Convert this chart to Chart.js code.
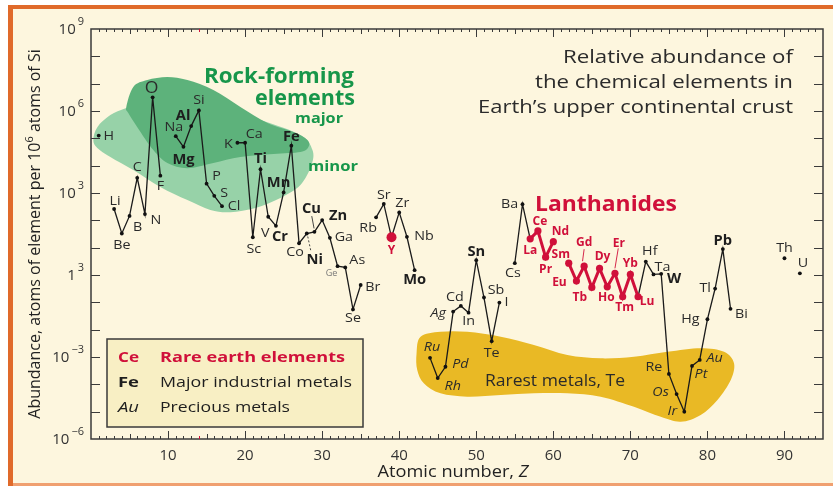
<!DOCTYPE html>
<html><head><meta charset="utf-8">
<script src="https://cdn.jsdelivr.net/npm/chart.js@4/dist/chart.umd.min.js"></script>
<style>html,body{margin:0;padding:0;background:#fff;}canvas{display:block;}</style>
</head><body>
<canvas id="c" width="833" height="486"></canvas>
<script>
// ---------- DATA ----------
const atomicNumbers = [1,3,4,5,6,7,8,9,11,12,13,14,15,16,17,19,20,21,22,23,24,25,26,27,28,29,30,31,32,33,34,35,37,38,39,40,41,42,44,45,46,47,48,49,50,51,52,53,55,56,57,58,59,60,62,63,64,65,66,67,68,69,70,71,72,73,74,75,76,77,78,79,80,81,82,83,90,92];
const symbols = ['H','Li','Be','B','C','N','O','F','Na','Mg','Al','Si','P','S','Cl','K','Ca','Sc','Ti','V','Cr','Mn','Fe','Co','Ni','Cu','Zn','Ga','Ge','As','Se','Br','Rb','Sr','Y','Zr','Nb','Mo','Ru','Rh','Pd','Ag','Cd','In','Sn','Sb','Te','I','Cs','Ba','La','Ce','Pr','Nd','Sm','Eu','Gd','Tb','Dy','Ho','Er','Tm','Yb','Lu','Hf','Ta','W','Re','Os','Ir','Pt','Au','Hg','Tl','Pb','Bi','Th','U'];
// atoms of element per 10^6 atoms of Si
const abundance = [1.26e5,2.6e2,33,145,3.6e3,170,3.16e6,4.3e3,1.2e5,4.9e4,2.8e5,1.05e6,2.2e3,790,330,6.9e4,6.9e4,24,7.4e3,135,63,1.05e3,5.4e4,14.5,33,38,102,23,2.1,1.9,0.055,0.43,129,398,24,195,25,1.5,9.3e-4,1.7e-4,4.4e-4,0.046,0.074,0.042,3.5,0.15,3.8e-3,0.098,2.7,389,21,41,4.5,16.6,2.7,0.60,2.1,0.35,1.74,0.37,1.15,0.16,1.05,0.16,3.1,1.05,1.1,2.4e-4,4.4e-5,1.0e-5,4.7e-4,7.8e-4,0.024,0.32,8.9,0.058,4.1,1.15];
const rareEarths = ['Y','La','Ce','Pr','Nd','Sm','Eu','Gd','Tb','Dy','Ho','Er','Tm','Yb','Lu'];
const industrialMetals = ['Mg','Al','Ti','Cr','Mn','Fe','Ni','Cu','Zn','Mo','Sn','W','Pb'];
const preciousMetals = ['Ru','Rh','Pd','Ag','Os','Ir','Pt','Au'];
const xTickValues = [10,20,30,40,50,60,70,80,90];
const yTickValues = [1e-6,1e-3,1,1e3,1e6,1e9];
const yTickLabels = [['10','\u22126'],['10','\u22123'],['1','3'],['10','3'],['10','6'],['10','9']];
const titleLines = ['Relative abundance of','the chemical elements in','Earth\u2019s upper continental crust'];
const legendRows = [['Ce','Rare earth elements'],['Fe','Major industrial metals'],['Au','Precious metals']];

// ---------- LAYOUT (label offsets in px, region outlines in [Z, log10 abundance]) ----------
const labelOffset = {
 H:[10,1],Li:[1,-8],Be:[0,12],B:[8,11],C:[0,-10],N:[11,6],O:[-1,-9],F:[0,11],
 Na:[-2,-9],Mg:[0,13],Al:[-8,-10],Si:[0,-10],P:[10,-7],S:[10,-3],Cl:[12,0],
 K:[-9,2],Ca:[9,-8],Sc:[1,12],Ti:[0,-10],V:[-3,17],Cr:[4,11],Mn:[-5,-9],Fe:[0,-9],
 Co:[-4,9],Ni:[8,27],Cu:[-3,-23],Zn:[16,-4],Ga:[14,0],Ge:[-6,7],As:[12,-7],Se:[0,9],Br:[12,2],
 Rb:[-8,11],Sr:[0,-9],Y:[0,13],Zr:[3,-9],Nb:[17,0],Mo:[0,10],
 Ru:[2,-11],Rh:[15,8],Pd:[15,-2],Ag:[-15,2],Cd:[-6,-9],In:[0,9],Sn:[0,-8],Sb:[12,-7],Te:[0,12],I:[7,0],
 Cs:[-2,10],Ba:[-13,0],La:[0,12],Ce:[2,-9],Pr:[0,12],Nd:[7,-10],Sm:[-8,-9],Eu:[-17,2],Gd:[0,-24],
 Tb:[-12,10],Dy:[3,-12],Ho:[-1,11],Er:[4,-30],Tm:[2,11],Yb:[0,-11],Lu:[9,5],
 Hf:[4,-10],Ta:[9,-7],W:[13,5],Re:[-15,-7],Os:[-16,-2],Ir:[-12,0],Pt:[9,8],Au:[15,-2],
 Hg:[-17,0],Tl:[-10,0],Pb:[0,-8],Bi:[11,5],Th:[0,-10],U:[3,-10]
};
const leaders = {Cu:[-2.7,-15.7,-0.4,-3.4,false],Ni:[1,3,4,17,true],Gd:[0,-17,-1.6,-5,false],Er:[3.3,-25,0,-5,false]};
const minorRegion = [[0.30,4.94],[0.82,5.41],[2.51,5.85],[4.58,6.11],[7.7,6.40],[14.19,6.40],[21.99,5.67],[27.18,5.12],[28.74,4.57],[28.61,4.02],[27.18,3.29],[24.58,2.82],[21.34,2.45],[18.09,2.30],[15.49,2.38],[12.51,2.74],[9.0,3.22],[5.49,3.84],[2.51,4.32],[0.82,4.65]];
const majorRegion = [[4.58,6.15],[5.49,6.88],[7.31,7.13],[9.91,7.24],[12.51,7.13],[15.88,6.77],[19.39,6.15],[22.9,5.56],[26.27,5.23],[28.09,4.94],[28.22,4.68],[27.18,4.50],[23.68,4.43],[19.39,4.32],[15.88,4.10],[12.51,3.91],[9.91,4.10],[8.09,4.57],[6.01,5.41],[4.84,5.93]];
const rarestRegion = [[42.25,-2.87],[42.77,-2.26],[45.36,-2.08],[48.83,-2.08],[53.18,-2.26],[57.48,-2.56],[61.82,-2.93],[66.14,-3.05],[70.47,-2.99],[74.81,-2.81],[79.13,-2.68],[82.16,-2.81],[83.45,-3.23],[83.03,-3.84],[81.30,-4.57],[79.13,-5.12],[76.53,-5.37],[73.94,-5.19],[70.47,-4.82],[66.14,-4.45],[61.82,-4.33],[57.48,-4.33],[53.18,-4.39],[48.83,-4.45],[45.36,-4.33],[43.19,-3.96],[42.34,-3.48]];

// ---------- BUILD ----------
const RED = '#d0103a', INK = '#222';
const FONT = "'Open Sans', 'Noto Sans', sans-serif";
const allPts = [], reePts = [];
for (let z = 1; z <= 92; z++) {
  const i = atomicNumbers.indexOf(z);
  const v = i >= 0 ? abundance[i] : null;
  allPts.push({x: z, y: v});
  reePts.push({x: z, y: (i >= 0 && rareEarths.includes(symbols[i])) ? v : null});
}
function symOf(z){ const i = atomicNumbers.indexOf(z); return i>=0 ? symbols[i] : null; }

function smoothClosed(ctx, p){
  const n = p.length;
  ctx.beginPath(); ctx.moveTo(p[0][0], p[0][1]);
  for (let i = 0; i < n; i++) {
    const p0=p[(i-1+n)%n], p1=p[i], p2=p[(i+1)%n], p3=p[(i+2)%n];
    ctx.bezierCurveTo(p1[0]+(p2[0]-p0[0])/6, p1[1]+(p2[1]-p0[1])/6, p2[0]-(p3[0]-p1[0])/6, p2[1]-(p3[1]-p1[1])/6, p2[0], p2[1]);
  }
  ctx.closePath();
}
// text helper: o.w = target width (horizontal fit), o.sx = horizontal stretch
function T(ctx, s, x, y, o){
  o = o || {};
  ctx.save();
  ctx.font = (o.style||'normal')+' '+(o.weight||'normal')+' '+(o.size||13)+'px '+FONT;
  ctx.fillStyle = o.color || INK;
  ctx.textAlign = o.align || 'center';
  ctx.textBaseline = o.baseline || 'middle';
  let sx = o.sx || 1;
  if (o.w) sx = o.w / ctx.measureText(s).width;
  ctx.translate(x, y); ctx.scale(sx, 1);
  ctx.fillText(s, 0, 0);
  ctx.restore();
}

const decor = {
  id: 'decor',
  beforeDraw(chart){
    const ctx = chart.ctx;
    ctx.save();
    ctx.fillStyle = '#ffffff'; ctx.fillRect(0,0,833,486);
    ctx.fillStyle = '#e06a2a'; ctx.fillRect(8,5,825,481);
    ctx.fillStyle = '#f0a070'; ctx.fillRect(13,483,820,3);
    ctx.fillStyle = '#fdf6de'; ctx.fillRect(13,9,820,474);
    ctx.restore();
  },
  beforeDatasetsDraw(chart){
    const ctx = chart.ctx, xs = chart.scales.x, ys = chart.scales.y;
    const toPx = r => r.map(([z,l]) => [xs.getPixelForValue(z), ys.getPixelForValue(Math.pow(10,l))]);
    ctx.save();
    smoothClosed(ctx, toPx(minorRegion)); ctx.fillStyle = '#97d2a8'; ctx.fill();
    smoothClosed(ctx, toPx(majorRegion)); ctx.fillStyle = '#5db27b'; ctx.fill();
    smoothClosed(ctx, toPx(rarestRegion)); ctx.fillStyle = '#e9b925'; ctx.fill();
    // region titles
    T(ctx,'Rock-forming',354,77,{size:21,weight:'bold',color:'#17964a',align:'right',w:150});
    T(ctx,'elements',355,99,{size:21,weight:'bold',color:'#17964a',align:'right',w:100});
    T(ctx,'major',319,119,{size:14,weight:'bold',color:'#17964a',w:48});
    T(ctx,'minor',333,167,{size:14,weight:'bold',color:'#17964a',w:50});
    T(ctx,'Rarest metals, Te',555,381,{size:16,color:'#2a2a2a',w:140});
    T(ctx,'Lanthanides',606,205,{size:21,weight:'bold',color:RED,w:142});
    ctx.restore();
  },
  afterDraw(chart){
    const ctx = chart.ctx, xs = chart.scales.x, ys = chart.scales.y, a = chart.chartArea;
    ctx.save();
    // frame and ticks
    ctx.strokeStyle = '#3a3a3a'; ctx.lineWidth = 1.5;
    ctx.strokeRect(a.left, a.top, a.right-a.left, a.bottom-a.top);
    ctx.lineWidth = 1;
    const ln = (x1,y1,x2,y2) => { ctx.beginPath(); ctx.moveTo(x1,y1); ctx.lineTo(x2,y2); ctx.stroke(); };
    for (let z = 1; z < 95; z++) {
      const px = Math.round(xs.getPixelForValue(z)) + 0.5;
      const len = z%10===0 ? 8 : (z%5===0 ? 5 : 3);
      ctx.strokeStyle = z===14 ? RED : '#3a3a3a';
      ln(px, a.bottom, px, a.bottom-len); ln(px, a.top, px, a.top+len);
    }
    ctx.strokeStyle = '#3a3a3a';
    for (let e = -5; e <= 8; e++) {
      const py = Math.round(ys.getPixelForValue(Math.pow(10,e))) + 0.5;
      ln(a.left, py, a.left+9, py); ln(a.right, py, a.right-9, py);
    }
    // y tick labels with superscripts
    yTickValues.forEach((v, i) => {
      const py = ys.getPixelForValue(v);
      const [base, sup] = yTickLabels[i];
      ctx.font = 'normal 11px ' + FONT;
      const sw = ctx.measureText(sup).width;
      T(ctx, sup, 84 - sw, py - 7, {size:11, color:'#333', align:'left'});
      T(ctx, base, 84 - sw - 2, py + 1, {size:15, color:'#333', align:'right'});
    });
    // y title
    ctx.save();
    ctx.translate(40, 234); ctx.rotate(-Math.PI/2);
    const p1 = 'Abundance, atoms of element per 10', p2 = '6', p3 = ' atoms of Si';
    ctx.font = 'normal 16px ' + FONT; const w1 = ctx.measureText(p1).width, w3 = ctx.measureText(p3).width;
    ctx.font = 'normal 11px ' + FONT; const w2 = ctx.measureText(p2).width;
    let sx = -(w1+w2+w3)/2;
    T(ctx, p1, sx, 0, {size:16, align:'left', baseline:'alphabetic'});
    T(ctx, p2, sx+w1, -7, {size:11, align:'left', baseline:'alphabetic'});
    T(ctx, p3, sx+w1+w2, 0, {size:16, align:'left', baseline:'alphabetic'});
    ctx.restore();
    // x title
    {
      const s1 = 'Atomic number, ', s2 = 'Z', k = 1.07;
      ctx.font = 'normal 17px ' + FONT; const w1x = ctx.measureText(s1).width * k;
      ctx.font = 'italic normal 17px ' + FONT; const w2x = ctx.measureText(s2).width * k;
      const x0 = 453 - (w1x + w2x)/2;
      T(ctx, s1, x0, 477, {size:17, align:'left', baseline:'alphabetic', sx:k});
      T(ctx, s2, x0 + w1x, 477, {size:17, style:'italic', align:'left', baseline:'alphabetic', sx:k});
    }
    // chart title
    const titleW = [230, 258, 315];
    titleLines.forEach((s, i) => T(ctx, s, 793, 58 + i*25, {size:18, color:'#2b2b2b', align:'right', w:titleW[i]}));
    // element labels and leaders
    atomicNumbers.forEach((z, i) => {
      const s = symbols[i];
      const px = xs.getPixelForValue(z), py = ys.getPixelForValue(abundance[i]);
      const off = labelOffset[s] || [0,-10];
      let o = {size:13, color:'#2a2a2a', sx:1.1};
      if (rareEarths.includes(s)) o = {size:12, weight:'bold', color:RED, sx:1.0};
      else if (industrialMetals.includes(s)) o = {size:14, weight:'bold', color:'#1e1e1e', sx:1.05};
      else if (preciousMetals.includes(s)) o = {size:13, style:'italic', color:'#2a2a2a', sx:1.1};
      else if (s === 'Ge') o = {size:9, color:'#777'};
      else if (s === 'O') o = {size:16, color:'#2a2a2a', sx:1.1};
      T(ctx, s, px + off[0], py + off[1], o);
      const L = leaders[s];
      if (L) {
        ctx.strokeStyle = rareEarths.includes(s) ? RED : '#333';
        ctx.lineWidth = 0.9;
        ctx.setLineDash(L[4] ? [2,2] : []);
        ln(px+L[0], py+L[1], px+L[2], py+L[3]);
        ctx.setLineDash([]);
      }
    });
    // legend box
    ctx.fillStyle = '#f8efc4'; ctx.fillRect(107,339,256,88);
    ctx.strokeStyle = '#3a3a3a'; ctx.lineWidth = 1.5; ctx.strokeRect(107,339,256,88);
    const rowY = [358, 383, 408];
    T(ctx, legendRows[0][0], 118, rowY[0], {size:15, weight:'bold', color:RED, align:'left', w:21});
    T(ctx, legendRows[0][1], 160, rowY[0], {size:15, weight:'bold', color:RED, align:'left', w:185});
    T(ctx, legendRows[1][0], 118, rowY[1], {size:15, weight:'bold', color:'#1e1e1e', align:'left', w:21});
    T(ctx, legendRows[1][1], 160, rowY[1], {size:15, color:'#1e1e1e', align:'left', w:192});
    T(ctx, legendRows[2][0], 118, rowY[2], {size:15, style:'italic', color:'#1e1e1e', align:'left', w:21});
    T(ctx, legendRows[2][1], 160, rowY[2], {size:15, color:'#1e1e1e', align:'left', w:130});
    ctx.restore();
  }
};

new Chart(document.getElementById('c'), {
  type: 'line',
  data: { datasets: [
    { label: 'Rare earth elements', data: reePts, order: 0, borderColor: RED, borderWidth: 3,
      pointRadius: c => symOf(c.raw && c.raw.x) === 'Y' ? 5 : 3.6, pointBackgroundColor: RED, pointBorderWidth: 0,
      spanGaps: false, tension: 0 },
    { label: 'Abundance', data: allPts, order: 1, borderColor: '#1a1a1a', borderWidth: 1.3,
      pointRadius: c => rareEarths.includes(symOf(c.raw && c.raw.x)) ? 0 : 1.9, pointBackgroundColor: '#111', pointBorderWidth: 0,
      spanGaps: false, tension: 0 }
  ]},
  options: {
    responsive: false, animation: false, devicePixelRatio: 1,
    layout: { padding: { left: 0, top: 29, right: 10, bottom: 0 } },
    plugins: { legend: { display: false }, tooltip: { enabled: false } },
    scales: {
      x: { type: 'linear', min: 0, max: 95,
           grid: { display: false, drawTicks: false }, border: { display: false },
           afterBuildTicks: s => { s.ticks = xTickValues.map(v => ({value: v})); },
           ticks: { font: { family: FONT, size: 15 }, color: '#333', padding: 8, maxRotation: 0, autoSkip: false },
           afterFit: s => { s.height = 47; } },
      y: { type: 'logarithmic', min: 1e-6, max: 1e9,
           grid: { display: false, drawTicks: false }, border: { display: false },
           ticks: { display: false },
           afterFit: s => { s.width = 91; } }
    }
  },
  plugins: [decor]
});
</script>
</body></html>
